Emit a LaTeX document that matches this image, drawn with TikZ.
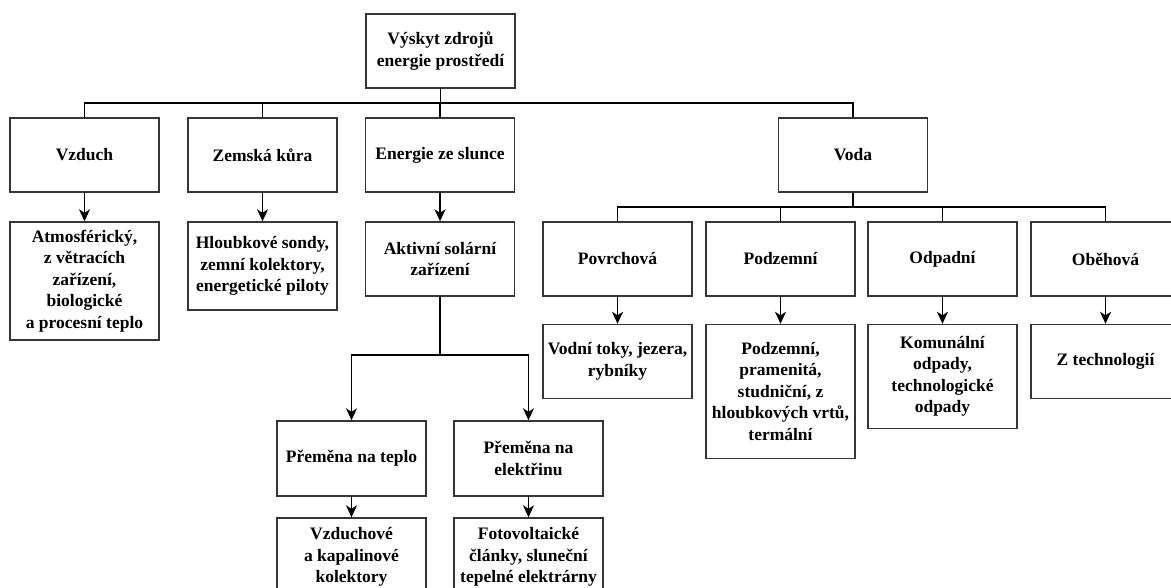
\documentclass[tikz,border=0pt]{standalone}
\usepackage{fontspec}
\setmainfont{Liberation Serif}
\usetikzlibrary{arrows.meta}
\definecolor{boxc}{HTML}{363636}
\tikzset{
  box/.style={draw=boxc, line width=1.4pt, fill=white, align=center, inner sep=0pt,
    font=\fontsize{17.5}{21.5}\selectfont\bfseries, minimum width=149pt},
  conn/.style={draw=black, line width=1.4pt},
  arr/.style={conn, -{Stealth[length=12pt,width=11pt,inset=3.5pt]}}
}
\begin{document}
\begin{tikzpicture}[x=1pt,y=-1pt]
\useasboundingbox (0,0) rectangle (1171,588);
\clip (0,0) rectangle (1171,588);
% top
\node[box, minimum height=74pt] (root) at (440.5,51) {Výskyt zdrojů\\energie prostředí};
% level 1
\node[box, minimum height=74pt] (vzduch) at (84.5,155) {Vzduch};
\node[box, minimum height=74pt] (zemska) at (262.5,155) {Zemská kůra};
\node[box, minimum height=74pt] (slunce) at (440,155) {Energie ze slunce};
\node[box, minimum height=74pt] (voda) at (853,155) {Voda};
% level 2 left
\node[box, minimum height=118pt] (atmo) at (84.5,281) {Atmosférický,\\z větracích\\zařízení,\\biologické\\a procesní teplo};
\node[box, minimum height=88pt] (hloub) at (262.5,266) {Hloubkové sondy,\\zemní kolektory,\\energetické piloty};
\node[box, minimum height=74pt] (aktiv) at (440,259) {Aktivní solární\\zařízení};
% solar branch
\node[box, minimum height=75pt] (teplo) at (351.5,458.5) {Přeměna na teplo};
\node[box, minimum height=75pt] (elek) at (528.5,458.5) {Přeměna na\\elektřinu};
\node[box, minimum height=78pt] (vzduchove) at (351.5,557) {Vzduchové\\a kapalinové\\kolektory};
\node[box, minimum height=78pt] (foto) at (528.5,557) {Fotovoltaické\\články, sluneční\\tepelné elektrárny};
% water level 2
\node[box, minimum height=74pt] (povrch) at (617.5,259) {Povrchová};
\node[box, minimum height=74pt] (podzem) at (780.5,259) {Podzemní};
\node[box, minimum height=74pt] (odpad) at (942.5,259) {Odpadní};
\node[box, minimum height=74pt] (obeh) at (1105.5,259) {Oběhová};
% water level 3
\node[box, minimum height=74pt] (toky) at (617.5,361.5) {Vodní toky, jezera,\\rybníky};
\node[box, minimum height=134pt] (podzem2) at (780.5,391.5) {Podzemní,\\pramenitá,\\studniční, z\\hloubkových vrtů,\\termální};
\node[box, minimum height=104pt] (komun) at (942.5,376.5) {Komunální\\odpady,\\technologické\\odpady};
\node[box, minimum height=74pt] (ztech) at (1105.5,361.5) {Z technologií};
% bus coordinates
\coordinate (bus1) at (0,103);
\coordinate (bus2) at (0,207);
\coordinate (bus3) at (0,355);
% connectors top
\draw[conn] (root.south) -- (root.south |- bus1);
\draw[conn] (vzduch.north) -- (vzduch.north |- bus1) -| (voda.north);
\draw[conn] (zemska.north) -- (zemska.north |- bus1);
\draw[conn] (slunce.north) -- (slunce.north |- bus1);
% arrows level1 -> level2
\draw[arr] (vzduch.south) -- (atmo.north);
\draw[arr] (zemska.south) -- (hloub.north);
\draw[arr] (slunce.south) -- (aktiv.north);
% solar branch
\draw[conn] (aktiv.south) -- (aktiv.south |- bus3);
\draw[arr] (aktiv.south |- bus3) -| (teplo.north);
\draw[arr] (aktiv.south |- bus3) -| (elek.north);
\draw[arr] (teplo.south) -- (vzduchove.north);
\draw[arr] (elek.south) -- (foto.north);
% water
\draw[conn] (voda.south) -- (voda.south |- bus2);
\draw[conn] (povrch.north) -- (povrch.north |- bus2) -| (obeh.north);
\draw[conn] (podzem.north) -- (podzem.north |- bus2);
\draw[conn] (odpad.north) -- (odpad.north |- bus2);
\draw[arr] (povrch.south) -- (toky.north);
\draw[arr] (podzem.south) -- (podzem2.north);
\draw[arr] (odpad.south) -- (komun.north);
\draw[arr] (obeh.south) -- (ztech.north);
\end{tikzpicture}
\end{document}
